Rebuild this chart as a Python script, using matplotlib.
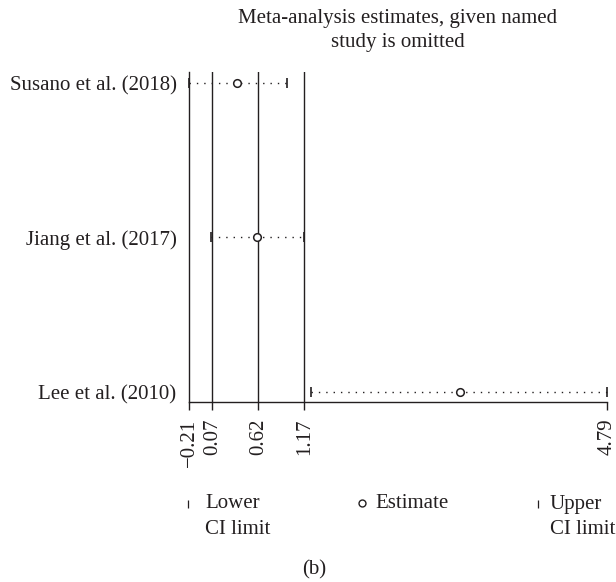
import matplotlib.pyplot as plt
from matplotlib.lines import Line2D

# Влияние исключения каждого исследования на итоговую оценку
studies = ["Susano et al. (2018)", "Jiang et al. (2017)", "Lee et al. (2010)"]
estimate = [0.37, 0.60, 3.03]
ci_lower = [-0.21, 0.05, 1.25]
ci_upper = [0.96, 1.16, 4.79]

# Итоговая оценка по всем исследованиям и её доверительный интервал
overall_est = 0.62
overall_lower = 0.07
overall_upper = 1.17

tick_values = [-0.21, 0.07, 0.62, 1.17, 4.79]
tick_labels = ["\u22120.21", "0.07", "0.62", "1.17", "4.79"]

ink = "#231f20"
plt.rcParams["font.family"] = ["Liberation Serif", "DejaVu Serif"]
plt.rcParams["font.size"] = 15

fig = plt.figure(figsize=(6.16, 5.82), dpi=100)
ax = fig.add_axes([189 / 616, 1 - 402 / 582, 418 / 616, 330 / 582])

rows = list(range(len(studies), 0, -1))

# Вертикальные линии: итоговая оценка и границы интервала
for v in [overall_lower, overall_est, overall_upper]:
    ax.axvline(v, color=ink, lw=1.0)

for y, lo, e, hi in zip(rows, ci_lower, estimate, ci_upper):
    ax.plot([lo, hi], [y, y], color=ink, lw=1.0, linestyle=(0, (1, 4.3)),
            clip_on=False)
    ax.plot([lo, hi], [y, y], linestyle="none", marker="|", markersize=6.5,
            color=ink, mew=1.2, clip_on=False)
    ax.plot([e], [y], linestyle="none", marker="o", markersize=5.5,
            mfc="white", mec=ink, mew=1.1, clip_on=False, zorder=5)

ax.set_xlim(tick_values[0], tick_values[-1])
ax.set_ylim(0.935, 3.071)
ax.set_yticks(rows)
ax.set_yticklabels(studies, color=ink)
ax.set_xticks(tick_values)
ax.set_xticklabels(tick_labels, rotation=90, color=ink)
ax.tick_params(axis="y", length=0, pad=9)
ax.tick_params(axis="x", length=6, width=1.0, color=ink, pad=6)

for side in ["top", "right"]:
    ax.spines[side].set_visible(False)
for side in ["left", "bottom"]:
    ax.spines[side].set_color(ink)
    ax.spines[side].set_linewidth(1.0)

fig.text(398 / 616, 1 - 19 / 582, "Meta-analysis estimates, given named",
         ha="center", va="center", color=ink)
fig.text(398 / 616, 1 - 43 / 582, "study is omitted",
         ha="center", va="center", color=ink)

# Легенда внизу рисунка
def key(x, y, marker, size, **kw):
    fig.add_artist(Line2D([x / 616], [1 - y / 582], transform=fig.transFigure,
                          linestyle="none", marker=marker, markersize=size,
                          color=ink, **kw))

key(188, 504, "|", 6, mew=0.9)
key(362, 503, "o", 5, mfc="white", mec=ink, mew=1.0)
key(538, 504, "|", 6, mew=0.9)

legend_items = [(205, "Lower", "CI limit"), (375, "Estimate", None),
                (550, "Upper", "CI limit")]
for x, line1, line2 in legend_items:
    fig.text(x / 616, 1 - 504 / 582, line1, ha="left", va="center", color=ink)
    if line2:
        fig.text(x / 616, 1 - 529 / 582, line2, ha="left", va="center",
                 color=ink)

fig.text(314 / 616, 1 - 570 / 582, "(b)", ha="center", va="center", color=ink)

fig.savefig("out.png", dpi=100)
